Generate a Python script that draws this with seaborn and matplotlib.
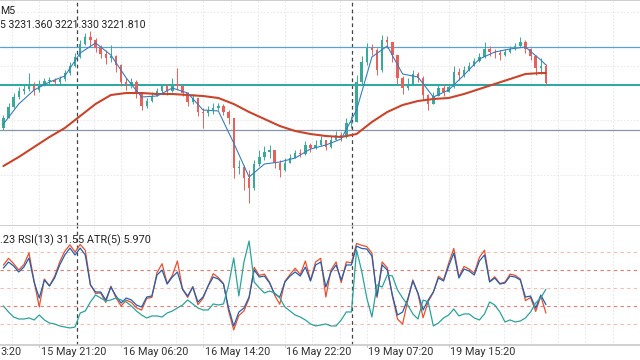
import numpy as np
import pandas as pd
import matplotlib
matplotlib.use("Agg")
import matplotlib.pyplot as plt
import matplotlib.transforms as mtransforms
import seaborn as sns

# XAUUSD M5, drawn as 30 min candles (6 x M5 bars each)
opens = [3199.5, 3204.5, 3210.0, 3215.0, 3218.0, 3219.0, 3220.5, 3218.5, 3221.5, 3223.0,
         3223.5, 3222.5, 3224.0, 3227.0, 3230.5, 3235.0, 3241.5, 3245.0, 3243.5, 3239.5,
         3236.5, 3234.5, 3235.5, 3231.0, 3222.5, 3221.5, 3222.5, 3216.5, 3210.5, 3213.0,
         3215.5, 3218.0, 3220.5, 3218.0, 3221.5, 3220.5, 3217.0, 3212.5, 3214.5, 3207.5,
         3207.0, 3208.5, 3209.5, 3210.5, 3207.5, 3204.5, 3179.5, 3180.0, 3174.5, 3169.5,
         3181.5, 3185.0, 3187.5, 3188.5, 3182.0, 3178.5, 3182.0, 3184.5, 3187.0, 3186.5,
         3191.0, 3189.5, 3191.0, 3193.5, 3190.0, 3193.5, 3196.0, 3195.0, 3202.0, 3202.5,
         3222.5, 3232.5, 3239.5, 3238.5, 3228.5, 3243.5, 3242.5, 3236.0, 3224.5, 3219.5,
         3221.5, 3226.5, 3224.5, 3216.0, 3211.5, 3215.5, 3219.5, 3217.5, 3220.0, 3227.5,
         3226.0, 3228.5, 3230.5, 3233.0, 3235.0, 3239.0, 3237.5, 3237.0, 3236.0, 3237.5,
         3239.0, 3240.5, 3242.5, 3239.0, 3235.5, 3229.5, 3230.5]
highs = [3206.0, 3212.0, 3217.0, 3220.0, 3221.0, 3227.0, 3222.5, 3223.5, 3224.5, 3225.0,
         3224.5, 3225.5, 3228.5, 3232.5, 3237.0, 3243.5, 3247.0, 3248.0, 3244.5, 3241.0,
         3238.5, 3241.0, 3236.0, 3231.5, 3224.5, 3224.5, 3223.5, 3217.0, 3214.5, 3217.5,
         3219.5, 3221.5, 3221.5, 3224.5, 3229.5, 3220.5, 3217.5, 3216.5, 3214.5, 3209.5,
         3210.5, 3212.0, 3212.0, 3211.5, 3208.5, 3204.5, 3183.5, 3181.0, 3178.5, 3183.5,
         3188.5, 3190.5, 3191.0, 3188.5, 3183.5, 3184.5, 3186.5, 3188.5, 3189.0, 3193.0,
         3192.0, 3193.5, 3195.5, 3193.5, 3195.5, 3198.0, 3197.5, 3204.5, 3205.5, 3226.0,
         3235.5, 3242.0, 3241.5, 3239.5, 3246.0, 3245.5, 3242.5, 3236.0, 3225.5, 3224.5,
         3228.5, 3227.5, 3225.5, 3216.5, 3217.5, 3221.5, 3221.5, 3221.5, 3230.5, 3229.5,
         3230.5, 3232.5, 3234.5, 3237.0, 3242.5, 3240.5, 3239.0, 3238.5, 3239.0, 3240.5,
         3242.0, 3245.0, 3243.5, 3239.5, 3236.0, 3234.5, 3231.36]
lows = [3198.5, 3204.5, 3209.5, 3214.0, 3216.5, 3218.0, 3216.0, 3217.5, 3220.5, 3221.5,
        3221.0, 3221.5, 3223.0, 3226.0, 3230.0, 3234.5, 3241.0, 3240.5, 3237.5, 3234.5,
        3231.5, 3232.5, 3227.5, 3220.5, 3218.5, 3219.5, 3214.5, 3208.5, 3209.5, 3212.5,
        3215.5, 3216.5, 3216.0, 3217.5, 3218.5, 3215.5, 3210.5, 3211.5, 3205.5, 3199.5,
        3205.5, 3206.5, 3208.5, 3206.0, 3201.5, 3174.5, 3176.5, 3168.5, 3162.0, 3168.5,
        3180.5, 3183.5, 3184.5, 3179.5, 3175.0, 3178.0, 3182.0, 3184.5, 3185.0, 3186.0,
        3187.5, 3189.0, 3190.5, 3188.5, 3189.5, 3193.5, 3193.0, 3194.5, 3199.5, 3202.5,
        3221.0, 3231.0, 3236.0, 3226.0, 3227.5, 3239.5, 3232.5, 3221.5, 3216.5, 3218.5,
        3221.0, 3222.5, 3213.5, 3208.5, 3211.5, 3215.5, 3215.5, 3217.5, 3219.5, 3223.5,
        3225.0, 3228.0, 3230.5, 3232.5, 3234.5, 3235.5, 3234.5, 3233.5, 3235.5, 3237.0,
        3238.5, 3240.0, 3237.0, 3233.5, 3226.0, 3226.5, 3221.33]
closes = [3204.5, 3210.0, 3215.0, 3218.0, 3219.0, 3220.5, 3218.5, 3221.5, 3223.0, 3223.5,
          3222.5, 3224.0, 3227.0, 3230.5, 3235.0, 3241.5, 3245.0, 3243.5, 3239.5, 3236.5,
          3234.5, 3235.5, 3231.0, 3222.5, 3221.5, 3222.5, 3216.5, 3210.5, 3213.0, 3215.5,
          3218.0, 3220.5, 3218.0, 3221.5, 3220.5, 3217.0, 3212.5, 3214.5, 3207.5, 3207.0,
          3208.5, 3209.5, 3210.5, 3207.5, 3204.5, 3179.5, 3180.0, 3174.5, 3169.5, 3181.5,
          3185.0, 3187.5, 3188.5, 3182.0, 3178.5, 3182.0, 3184.5, 3187.0, 3186.5, 3191.0,
          3189.5, 3191.0, 3193.5, 3190.0, 3193.5, 3196.0, 3195.0, 3202.0, 3202.5, 3222.5,
          3232.5, 3239.5, 3238.5, 3228.5, 3243.5, 3242.5, 3236.0, 3224.5, 3219.5, 3221.5,
          3226.5, 3224.5, 3216.0, 3211.5, 3215.5, 3219.5, 3217.5, 3220.0, 3227.5, 3226.0,
          3228.5, 3230.5, 3233.0, 3235.0, 3239.0, 3237.5, 3237.0, 3236.0, 3237.5, 3239.0,
          3240.5, 3242.5, 3239.0, 3235.5, 3229.5, 3230.5, 3221.81]

# moving averages read at every third candle
ma_fast = [3201.5, 3211.5, 3218.5, 3222.5, 3225.5, 3237.0, 3242.0, 3236.0, 3224.5, 3215.0,
           3215.5, 3219.5, 3217.0, 3208.5, 3208.0, 3192.0, 3175.0, 3181.5, 3182.5, 3184.5,
           3189.0, 3191.0, 3194.0, 3208.5, 3235.0, 3240.5, 3226.5, 3225.0, 3215.0, 3218.5,
           3226.0, 3234.0, 3237.5, 3239.0, 3240.0, 3233.5, 3231.0]
ma_slow = [3180.5, 3185.0, 3190.0, 3195.0, 3199.5, 3205.5, 3211.5, 3216.0, 3217.0, 3217.0,
           3216.5, 3216.5, 3216.0, 3215.5, 3214.5, 3211.5, 3207.5, 3204.0, 3200.5, 3198.0,
           3196.5, 3195.5, 3195.0, 3196.5, 3202.5, 3207.5, 3211.0, 3213.0, 3214.0, 3214.5,
           3216.5, 3219.0, 3221.5, 3224.0, 3226.5, 3227.0, 3227.0]

levels = [3240.0, 3221.2, 3198.5]
level_colors = ["#5aa2d0", "#2aa6a6", "#8495a8"]

rsi_fast = [75.5, 83.0, 77.0, 70.0, 76.0, 89.0, 57.5, 29.0, 60.0, 52.5,
            63.0, 79.0, 91.0, 98.0, 90.0, 98.5, 92.0, 54.0, 44.0, 44.5,
            34.0, 52.0, 39.0, 30.0, 36.5, 34.0, 28.0, 25.5, 38.5, 39.5,
            67.0, 77.0, 55.0, 64.0, 80.0, 48.5, 39.5, 51.5, 31.5, 38.5,
            52.5, 66.0, 61.5, 55.0, 24.5, 3.5, 19.5, 24.5, 38.5, 73.0,
            64.0, 65.5, 56.5, 42.0, 32.0, 57.5, 65.0, 72.0, 65.0, 80.0,
            58.5, 79.0, 83.0, 40.0, 70.0, 79.0, 56.0, 79.0, 78.0, 99.5,
            97.5, 96.0, 89.0, 39.5, 79.0, 72.5, 41.0, 15.5, 10.0, 36.0,
            59.0, 43.5, 17.0, 35.0, 45.0, 63.0, 59.0, 77.5, 94.0, 62.5,
            74.0, 71.0, 66.5, 84.0, 92.0, 57.5, 62.5, 55.0, 56.5, 65.5,
            64.0, 60.0, 36.0, 39.5, 24.0, 41.0, 22.23]
rsi13 = [72.2, 78.9, 74.4, 67.8, 73.3, 83.3, 56.7, 38.9, 58.9, 52.2,
         61.1, 75.6, 86.7, 94.4, 86.7, 94.4, 86.7, 53.3, 45.6, 45.6,
         36.7, 51.1, 41.1, 33.3, 38.9, 36.7, 31.1, 28.9, 40.0, 41.1,
         64.4, 70.0, 54.4, 62.2, 67.8, 48.9, 41.1, 51.1, 34.4, 40.0,
         52.2, 62.2, 60.0, 54.4, 27.8, 7.8, 23.3, 27.8, 40.0, 70.0,
         62.2, 63.3, 55.6, 43.3, 40.0, 56.7, 63.3, 67.8, 63.3, 73.3,
         57.8, 75.6, 78.9, 51.1, 67.8, 75.6, 58.9, 75.6, 75.6, 96.5,
         94.0, 93.3, 85.6, 41.1, 75.6, 70.0, 42.2, 20.0, 23.3, 37.8,
         57.8, 44.4, 25.6, 36.7, 45.6, 61.1, 57.8, 74.4, 88.9, 61.1,
         71.1, 68.9, 64.4, 80.0, 86.7, 56.7, 61.1, 54.4, 55.6, 63.3,
         62.2, 58.9, 40.0, 41.1, 27.8, 42.2, 31.55]
atr5 = [3.88, 3.13, 2.50, 2.25, 2.25, 2.38, 2.13, 2.75, 2.13, 1.75,
        1.63, 1.38, 1.25, 1.13, 1.25, 3.00, 3.25, 4.38, 5.25, 4.88,
        4.50, 4.63, 4.88, 4.63, 4.38, 3.88, 3.25, 2.75, 2.38, 2.63,
        2.63, 2.50, 3.00, 3.25, 3.63, 4.00, 4.63, 4.13, 3.63, 3.38,
        3.38, 4.13, 4.00, 4.13, 6.50, 9.88, 5.13, 9.38, 12.00, 6.88,
        6.13, 5.50, 5.75, 5.50, 4.88, 3.75, 3.25, 2.75, 2.50, 2.13,
        1.63, 1.38, 1.50, 1.63, 1.38, 1.38, 2.13, 3.13, 3.13, 10.88,
        8.25, 4.88, 2.50, 6.50, 6.25, 7.75, 7.63, 5.88, 4.88, 4.00,
        2.88, 2.25, 4.63, 4.38, 1.38, 1.75, 2.38, 2.75, 3.50, 2.63,
        2.88, 2.88, 2.38, 2.13, 2.88, 4.38, 4.00, 3.13, 1.88, 2.13,
        1.88, 2.00, 2.38, 3.13, 4.25, 4.88, 5.97]
rsi_levels = [90, 70, 50, 30, 10]

# time axis (positions in M5 bars); first label is only partly on screen
time_labels = ["15 May 21:20", "16 May 06:20", "16 May 14:20",
               "16 May 22:20", "19 May 07:20", "19 May 15:20"]
time_ticks = [46.3, 142.3, 238.3, 334.3, 430.3, 526.3]
day_seps = [90.3, 412.7]

# ---- frames ----
n = len(closes)
candles = pd.DataFrame({"o": opens, "h": highs, "l": lows, "c": closes})
candles["x"] = 6 * np.arange(n) + 4
ma_x = candles["x"].values[list(range(0, n - 1, 3)) + [n - 1]]
ma = pd.DataFrame({"x": ma_x, "fast": ma_fast, "slow": ma_slow})
osc = pd.DataFrame({"x": candles["x"], "r1": rsi_fast, "r2": rsi13, "atr": atr5})

sns.set_theme(style="white")
plt.rcParams["font.family"] = ["Roboto", "DejaVu Sans"]
FS = 7.8

W, H = 640, 360
fig = plt.figure(figsize=(6.4, 3.6), dpi=100)
ax = fig.add_axes([0, (H - 226) / H, 1, 226 / H])
axl = fig.add_axes([0, (H - 345) / H, 1, 119 / H])
XMAX = 640 / 0.853

for a in (ax, axl):
    a.set_xlim(0, XMAX)
    a.set_facecolor("white")
    for s in a.spines.values():
        s.set_visible(False)
    a.set_xticks([])
    a.set_yticks([])
    for gx in np.arange(14.3, XMAX, 32):
        a.axvline(gx, color="#e4e4e4", lw=0.6, ls=(0, (2, 2)), zorder=0)
    for d in day_seps:
        a.axvline(d, color="#444444", lw=0.9, ls=(0, (3, 2.5)), zorder=1)

ax.set_ylim(3150.5, 3263.5)
for gy in [3257.5, 3230.5, 3203.5, 3176.0]:
    ax.axhline(gy, color="#e6e6e6", lw=0.6, ls=(0, (2, 2)), zorder=0)
ax.spines["top"].set_visible(True)
ax.spines["top"].set_color("#c8c8c8")
ax.spines["bottom"].set_visible(True)
ax.spines["bottom"].set_color("#c8c8c8")
ax.spines["bottom"].set_linewidth(1.2)

for lv, lc, lw in zip(levels, level_colors, [0.9, 1.4, 0.9]):
    ax.axhline(lv, color=lc, lw=lw, zorder=2)

up = candles["c"] >= candles["o"]
col = np.where(up, "#3aa99a", "#e8605a")
ax.vlines(candles["x"], candles["l"], candles["h"], colors=col, lw=0.7, zorder=3)
body = (candles["c"] - candles["o"]).abs().clip(lower=0.4)
ax.bar(candles["x"], body, bottom=candles[["o", "c"]].min(axis=1), width=2.8,
       color=col, linewidth=0, zorder=3)

sns.lineplot(data=ma, x="x", y="slow", ax=ax, color="#c8452c", lw=1.5, zorder=4)
sns.lineplot(data=ma, x="x", y="fast", ax=ax, color="#3a7dbf", lw=0.8, zorder=5)
ax.set_xlabel("")
ax.set_ylabel("")

# lower panel
axl.set_ylim(-13.3, 118.9)
for lv in rsi_levels:
    strong = lv in (70, 30)
    axl.axhline(lv, color="#e57d72" if strong else "#f1bdb6", lw=0.8,
                ls=(0, (3, 3)), zorder=1)
sns.lineplot(data=osc, x="x", y="r1", ax=axl, color="#e8502f", lw=0.9, zorder=3)
sns.lineplot(data=osc, x="x", y="r2", ax=axl, color="#2062b0", lw=0.9, zorder=4)
axl.set_xlabel("")
axl.set_ylabel("")
axa = axl.twinx()
axa.set_ylim(-1.0, 13.875)
axa.set_xlim(0, XMAX)
sns.lineplot(data=osc, x="x", y="atr", ax=axa, color="#2ba39b", lw=0.9, zorder=5)
axa.set_xticks([])
axa.set_yticks([])
axa.set_ylabel("")
axa.set_xlabel("")
for s in axa.spines.values():
    s.set_visible(False)
axl.spines["bottom"].set_visible(True)
axl.spines["bottom"].set_color("#c8c8c8")
axl.spines["bottom"].set_linewidth(1.2)

# time axis
trans = mtransforms.blended_transform_factory(axl.transData, fig.transFigure)
y_lab = 1 - 352 / H
for tx, tl in zip(time_ticks, time_labels):
    axl.plot([tx, tx], [1 - 345 / H, 1 - 347 / H], color="#bdbdbd", lw=0.6,
             transform=trans, clip_on=False)
    axl.text(tx + 1.5, y_lab, tl, transform=trans, ha="left", va="center",
             fontsize=FS, color="#333333", clip_on=False)
fig.text(0, y_lab, "3:20", ha="left", va="center", fontsize=FS, color="#333333")

# header texts, as far as they are on screen
fig.text(0, 1 - 11 / H, "M5", ha="left", va="center", fontsize=7.6, color="#222222")
fig.text(0, 1 - 25 / H, "5 3231.360 3221.330 3221.810", ha="left", va="center",
         fontsize=7.6, color="#222222")
fig.text(0, 1 - 240 / H, ".23 RSI(13) 31.55 ATR(5) 5.970", ha="left",
         va="center", fontsize=FS, color="#222222")

fig.savefig("out.png", dpi=100, facecolor="white")
